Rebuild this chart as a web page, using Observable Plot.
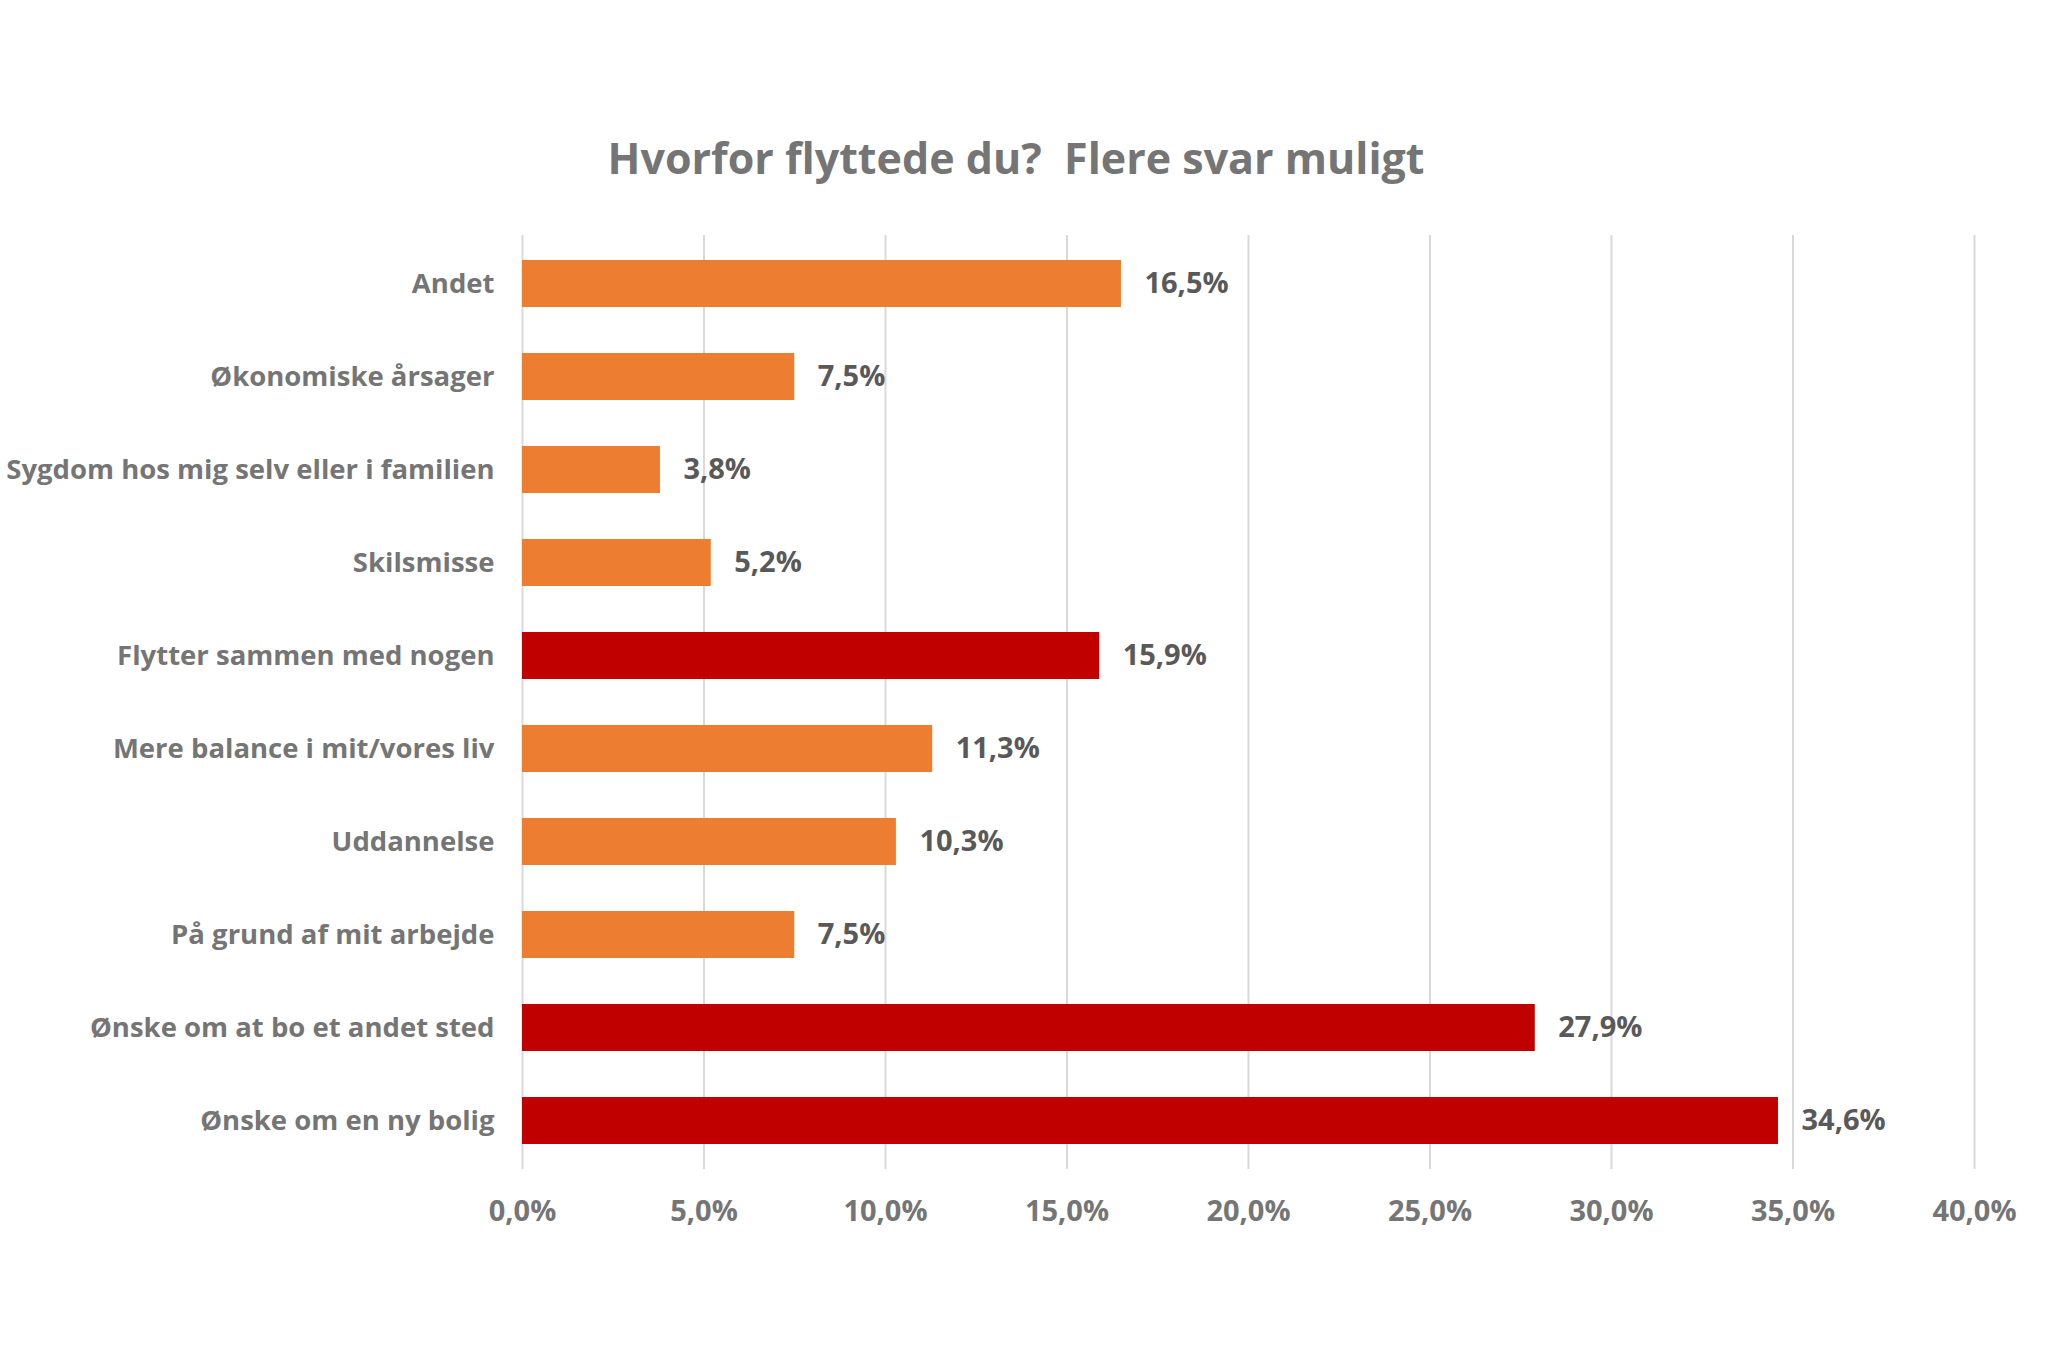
<!DOCTYPE html>
<html>
<head>
<meta charset="utf-8">
<script src="https://cdn.jsdelivr.net/npm/d3@7"></script>
<script src="https://cdn.jsdelivr.net/npm/@observablehq/plot@0.6"></script>
<style>
  html, body { margin: 0; padding: 0; background: #ffffff; }
  body { width: 2048px; height: 1367px; overflow: hidden; font-family: "Open Sans", sans-serif; }
  #title { height: 200px; box-sizing: border-box; padding-top: 136px; text-align: center; font-size: 43px; line-height: 43px; font-weight: bold; color: #757575; padding-right: 16px; }
  #chart svg { display: block; }
</style>
</head>
<body>
<div id="title">Hvorfor flyttede du?&nbsp; Flere svar muligt</div>
<div id="chart"></div>
<script>
const categories = [
  "Andet",
  "Økonomiske årsager",
  "Sygdom hos mig selv eller i familien",
  "Skilsmisse",
  "Flytter sammen med nogen",
  "Mere balance i mit/vores liv",
  "Uddannelse",
  "På grund af mit arbejde",
  "Ønske om at bo et andet sted",
  "Ønske om en ny bolig"
];
const values = [16.5, 7.5, 3.8, 5.2, 15.9, 11.3, 10.3, 7.5, 27.9, 34.6];
const highlighted = ["Flytter sammen med nogen", "Ønske om at bo et andet sted", "Ønske om en ny bolig"];
const xTicks = [0, 5, 10, 15, 20, 25, 30, 35, 40];

const data = categories.map((c, i) => ({
  category: c,
  value: values[i],
  group: highlighted.includes(c) ? "Fremhævet" : "Øvrige"
}));

const fmt = v => v.toFixed(1).replace(".", ",") + "%";

const chart = Plot.plot({
  width: 2048,
  height: 1167,
  marginTop: 35,
  marginBottom: 198,
  marginLeft: 522,
  marginRight: 74,
  style: { fontFamily: '"Open Sans", sans-serif', background: "#ffffff" },
  x: { domain: [0, 40] },
  y: { domain: categories, paddingInner: 0.5, paddingOuter: 0.25 },
  color: { domain: ["Øvrige", "Fremhævet"], range: ["#ED7D31", "#C00000"] },
  marks: [
    Plot.gridX(xTicks, { stroke: "#d9d9d9", strokeOpacity: 1, strokeWidth: 2 }),
    Plot.barX(data, { x: "value", y: "category", fill: "group" }),
    Plot.text(data, {
      x: "value", y: "category", text: d => fmt(d.value),
      dx: 23, textAnchor: "start", fontSize: 29, fontWeight: "bold", fill: "#595959"
    }),
    Plot.axisY({ tickSize: 0, tickPadding: 28, fontSize: 27.5, fontWeight: "bold", color: "#757575", label: null }),
    Plot.axisX({ ticks: xTicks, tickSize: 0, tickPadding: 31, tickFormat: fmt, fontSize: 29, fontWeight: "bold", color: "#757575", label: null })
  ]
});
document.getElementById("chart").appendChild(chart);
</script>
</body>
</html>
